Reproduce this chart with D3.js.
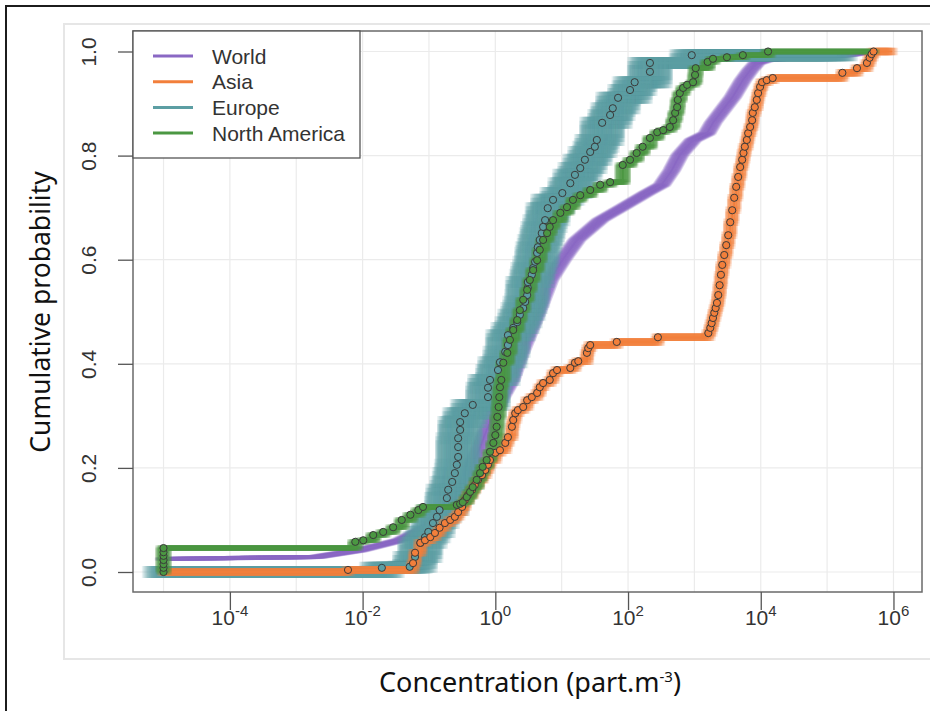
<!DOCTYPE html>
<html>
<head>
<meta charset="utf-8">
<script src="https://cdn.jsdelivr.net/npm/d3@7"></script>
<style>
  body { margin: 0; background: #fff; }
  text { font-family: "Liberation Sans", Arial, sans-serif; }
</style>
</head>
<body>
<svg id="chart" width="930" height="711"></svg>
<script>
// Empirical cumulative distributions: log10(concentration, part.m-3) and cumulative probability

const seriesNames = ["World", "Asia", "Europe", "North America"];
// largest observed log10 concentration per series (where each curve ends)
const seriesMaxLogConc = [5.69, 5.98, 5.15, 5.69];

const worldLogConc = [-5.01, -2.69, -2.04, -1.44, -0.98, -0.68, -0.49, -0.38, -0.23, -0.03, 0.07, 0.24, 0.37, 0.63, 0.82, 1.01, 1.23, 1.58, 1.92, 2.28, 2.51, 2.66, 2.78, 2.98, 3.19, 3.28, 3.43, 3.58, 3.73, 3.84, 3.94, 4.09, 4.70, 5.30, 5.69];
const worldProb    = [0.025, 0.029, 0.042, 0.061, 0.090, 0.130, 0.160, 0.196, 0.240, 0.305, 0.330, 0.369, 0.417, 0.498, 0.561, 0.599, 0.638, 0.676, 0.701, 0.728, 0.744, 0.772, 0.801, 0.830, 0.843, 0.863, 0.888, 0.913, 0.945, 0.964, 0.978, 0.984, 0.989, 0.993, 1.000];

const asiaLogConc = [-2.22, -1.24, -1.21, -1.13, -1.06, -0.98, -0.91, -0.84, -0.76, -0.68, -0.61, -0.56, -0.50, -0.46, -0.41, -0.35, -0.31, -0.26, -0.20, -0.15, -0.11, -0.08, 0.00, 0.07, 0.15, 0.19, 0.25, 0.27, 0.30, 0.34, 0.42, 0.48, 0.55, 0.63, 0.67, 0.72, 0.82, 0.87, 0.93, 1.13, 1.20, 1.25, 1.38, 1.40, 1.43, 1.83, 2.45, 3.21, 3.24, 3.26, 3.28, 3.30, 3.32, 3.34, 3.36, 3.38, 3.40, 3.42, 3.45, 3.48, 3.51, 3.54, 3.57, 3.60, 3.63, 3.66, 3.69, 3.72, 3.74, 3.76, 3.79, 3.81, 3.84, 3.87, 3.88, 3.91, 3.94, 3.96, 3.99, 4.02, 4.09, 4.18, 5.23, 5.45, 5.60, 5.64, 5.67, 5.70];
const asiaProb    = [0.004, 0.017, 0.037, 0.056, 0.061, 0.067, 0.075, 0.085, 0.094, 0.100, 0.106, 0.115, 0.125, 0.138, 0.148, 0.158, 0.167, 0.177, 0.186, 0.196, 0.206, 0.215, 0.229, 0.234, 0.248, 0.259, 0.279, 0.292, 0.305, 0.311, 0.317, 0.330, 0.336, 0.344, 0.355, 0.363, 0.369, 0.382, 0.388, 0.392, 0.402, 0.405, 0.421, 0.430, 0.436, 0.442, 0.451, 0.459, 0.469, 0.478, 0.488, 0.498, 0.507, 0.517, 0.532, 0.551, 0.571, 0.590, 0.609, 0.628, 0.647, 0.672, 0.695, 0.719, 0.740, 0.759, 0.778, 0.792, 0.805, 0.817, 0.830, 0.843, 0.855, 0.868, 0.882, 0.893, 0.907, 0.920, 0.932, 0.941, 0.945, 0.949, 0.959, 0.968, 0.978, 0.988, 0.995, 1.000];

const europeLogConc = [-1.71, -1.29, -1.21, -1.13, -1.06, -1.01, -0.94, -0.88, -0.84, -0.73, -0.71, -0.65, -0.61, -0.58, -0.56, -0.56, -0.56, -0.53, -0.53, -0.46, -0.34, -0.11, -0.11, -0.08, 0.04, 0.07, 0.15, 0.19, 0.19, 0.27, 0.33, 0.37, 0.42, 0.45, 0.48, 0.49, 0.49, 0.55, 0.57, 0.60, 0.63, 0.64, 0.67, 0.70, 0.72, 0.75, 0.79, 0.87, 1.01, 1.13, 1.20, 1.28, 1.35, 1.43, 1.50, 1.53, 1.61, 1.73, 1.77, 1.85, 2.03, 2.10, 2.33, 2.33, 2.96];
const europeProb    = [0.008, 0.010, 0.029, 0.056, 0.067, 0.077, 0.094, 0.106, 0.119, 0.142, 0.158, 0.173, 0.190, 0.206, 0.221, 0.240, 0.257, 0.273, 0.288, 0.305, 0.321, 0.336, 0.354, 0.369, 0.388, 0.403, 0.423, 0.436, 0.455, 0.469, 0.480, 0.494, 0.507, 0.519, 0.532, 0.546, 0.557, 0.571, 0.584, 0.596, 0.613, 0.624, 0.638, 0.651, 0.663, 0.676, 0.699, 0.715, 0.728, 0.747, 0.763, 0.776, 0.792, 0.807, 0.817, 0.830, 0.863, 0.878, 0.891, 0.911, 0.926, 0.941, 0.961, 0.978, 0.993];

const naLogConc = [-5.00, -5.00, -5.00, -5.00, -5.00, -5.00, -5.00, -2.11, -1.99, -1.84, -1.69, -1.54, -1.41, -1.28, -1.16, -1.09, -0.58, -0.53, -0.49, -0.43, -0.38, -0.34, -0.28, -0.23, -0.19, -0.13, -0.08, -0.03, 0.00, 0.02, 0.03, 0.05, 0.06, 0.07, 0.09, 0.12, 0.18, 0.22, 0.27, 0.33, 0.37, 0.42, 0.48, 0.52, 0.57, 0.63, 0.67, 0.72, 0.78, 0.82, 0.87, 0.98, 1.08, 1.17, 1.28, 1.43, 1.58, 1.73, 1.92, 2.03, 2.13, 2.22, 2.33, 2.44, 2.53, 2.63, 2.68, 2.71, 2.74, 2.75, 2.78, 2.83, 2.89, 2.98, 3.01, 3.02, 3.20, 3.28, 3.49, 3.73, 4.11];
const naProb    = [0.000, 0.008, 0.015, 0.023, 0.031, 0.038, 0.046, 0.058, 0.061, 0.071, 0.077, 0.086, 0.100, 0.110, 0.119, 0.125, 0.129, 0.131, 0.134, 0.144, 0.154, 0.163, 0.177, 0.190, 0.202, 0.215, 0.231, 0.248, 0.263, 0.279, 0.298, 0.317, 0.336, 0.355, 0.369, 0.402, 0.421, 0.446, 0.465, 0.484, 0.503, 0.523, 0.542, 0.561, 0.580, 0.599, 0.619, 0.638, 0.651, 0.663, 0.676, 0.690, 0.701, 0.715, 0.724, 0.734, 0.744, 0.749, 0.782, 0.792, 0.805, 0.817, 0.834, 0.845, 0.849, 0.855, 0.868, 0.882, 0.893, 0.907, 0.920, 0.930, 0.936, 0.941, 0.955, 0.968, 0.980, 0.986, 0.989, 0.993, 1.000];

const xTickExponents = [-4, -2, 0, 2, 4, 6];
const yTickValues = [0, 0.2, 0.4, 0.6, 0.8, 1.0];

const colors = {
  "World": "#8a68c4",
  "Asia": "#f27f3b",
  "Europe": "#5c9ea3",
  "North America": "#4b9742"
};

(function () {
const svg = d3.select("#chart");
const pLeft = 133, pRight = 922, pTop = 31, pBottom = 592;

const x = d3.scaleLog().domain([Math.pow(10, -5.46), Math.pow(10, 6.43)]).range([pLeft, pRight]);
const y = d3.scaleLinear().domain([0, 1]).range([572, 51.5]);
const X = L => x(Math.pow(10, L));

// outer frames
svg.append("rect").attr("x", 6).attr("y", 6).attr("width", 940).attr("height", 720)
  .attr("fill", "none").attr("stroke", "#1c1c1c").attr("stroke-width", 2);
svg.append("rect").attr("x", 64).attr("y", 24).attr("width", 880).attr("height", 635)
  .attr("fill", "none").attr("stroke", "#e6e6e6").attr("stroke-width", 2);

// grid
const grid = svg.append("g");
d3.range(-5, 7).forEach(k => {
  grid.append("line").attr("x1", X(k)).attr("x2", X(k)).attr("y1", pTop).attr("y2", pBottom)
    .attr("stroke", "#ebebeb").attr("stroke-width", 1.2);
});
yTickValues.forEach(v => {
  grid.append("line").attr("x1", pLeft).attr("x2", pRight).attr("y1", y(v)).attr("y2", y(v))
    .attr("stroke", "#ebebeb").attr("stroke-width", 1.2);
});

svg.append("clipPath").attr("id", "plotclip").append("rect")
  .attr("x", pLeft).attr("y", pTop).attr("width", pRight - pLeft).attr("height", pBottom - pTop);
const plot = svg.append("g").attr("clip-path", "url(#plotclip)");

const maxOf = n => seriesMaxLogConc[seriesNames.indexOf(n)];

function stepPath(L, P, startP, endL) {
  let d = `M${X(-5.01)},${y(startP)}`;
  for (let i = 0; i < L.length; i++) d += `H${X(L[i])}V${y(P[i])}`;
  d += `H${X(endL)}`;
  return d;
}
const worldLine = d3.line().x(d => X(d[0])).y(d => y(d[1]));
const worldPath = worldLine(worldLogConc.map((v, i) => [v, worldProb[i]]));

const series = [
  { name: "World", d: worldPath, band: { sx: 8, sy: 0.6, nx: 13, ny: 2, w: 3, op: 0.45 }, L: null },
  { name: "Europe", d: stepPath(europeLogConc, europeProb, 0, maxOf("Europe")), band: { sx: 21, sy: 4, nx: 33, ny: 3, w: 4, op: 0.32 }, L: europeLogConc, P: europeProb },
  { name: "Asia", d: stepPath(asiaLogConc, asiaProb, 0, maxOf("Asia")), band: { sx: 6, sy: 2.5, nx: 9, ny: 3, w: 2.5, op: 0.4 }, L: asiaLogConc, P: asiaProb },
  { name: "North America", d: stepPath(naLogConc, naProb, 0, maxOf("North America")), band: { sx: 7, sy: 1.5, nx: 11, ny: 3, w: 2.5, op: 0.4 }, L: naLogConc, P: naProb }
];

// resampled bands, drawn as shifted copies of each curve
series.forEach(s => {
  const g = plot.append("g");
  const b = s.band;
  for (let i = 0; i < b.nx; i++) {
    for (let j = 0; j < b.ny; j++) {
      const dx = -b.sx + 2 * b.sx * i / (b.nx - 1);
      const dy = -b.sy + 2 * b.sy * j / (b.ny - 1);
      const edge = Math.abs(dx) / b.sx;
      g.append("path").attr("d", s.d).attr("transform", `translate(${dx},${dy})`)
        .attr("fill", "none").attr("stroke", colors[s.name])
        .attr("stroke-width", b.w).attr("stroke-opacity", b.op * (1 - 0.55 * edge * edge));
    }
  }
  g.append("path").attr("d", s.d).attr("fill", "none")
    .attr("stroke", colors[s.name]).attr("stroke-width", 1.6);
});

// observed points
series.filter(s => s.L).forEach(s => {
  plot.append("g").selectAll("circle")
    .data(s.L.map((v, i) => [v, s.P[i]]))
    .join("circle")
    .attr("cx", d => X(d[0])).attr("cy", d => y(d[1])).attr("r", 3.6)
    .attr("fill", colors[s.name]).attr("stroke", "#3a3a3a").attr("stroke-width", 1);
});

// plot box
svg.append("rect").attr("x", pLeft).attr("y", pTop).attr("width", pRight - pLeft).attr("height", pBottom - pTop)
  .attr("fill", "none").attr("stroke", "#6a6a6a").attr("stroke-width", 1.5);

// x axis
const xAxis = svg.append("g").attr("transform", `translate(0,${pBottom})`)
  .call(d3.axisBottom(x).tickValues(xTickExponents.map(e => Math.pow(10, e))).tickSize(18).tickFormat(() => ""));
xAxis.select(".domain").remove();
xAxis.selectAll(".tick line").attr("stroke", "#555").attr("stroke-width", 1.3);
xTickExponents.forEach(e => {
  const t = svg.append("text").attr("x", X(e)).attr("y", 625).attr("text-anchor", "middle")
    .attr("fill", "#333").attr("font-size", 21);
  t.append("tspan").text("10");
  t.append("tspan").attr("dy", -9).attr("font-size", 15).text(e < 0 ? "-" + Math.abs(e) : String(e));
});

// y axis
const yAxis = svg.append("g").attr("transform", `translate(${pLeft},0)`)
  .call(d3.axisLeft(y).tickValues(yTickValues).tickSize(15).tickFormat(d3.format(".1f")));
yAxis.select(".domain").remove();
yAxis.selectAll(".tick line").attr("stroke", "#555").attr("stroke-width", 1.3);
yAxis.selectAll(".tick text").attr("x", 0).attr("y", -37).attr("dy", 0)
  .attr("text-anchor", "middle").attr("transform", "rotate(-90)")
  .attr("font-size", 21).attr("fill", "#333")
  .style("font-family", "'Liberation Sans', Arial, sans-serif");

// axis titles
const xt = svg.append("text").attr("x", 530).attr("y", 692).attr("text-anchor", "middle")
  .attr("font-size", 27).attr("fill", "#111").style("font-family", "'Noto Sans', sans-serif");
xt.append("tspan").text("Concentration (part.m");
xt.append("tspan").attr("dy", -10).attr("font-size", 15).text("-3");
xt.append("tspan").attr("dy", 10).text(")");

svg.append("text").attr("transform", "translate(50,312) rotate(-90)").attr("text-anchor", "middle")
  .attr("font-size", 26.5).attr("fill", "#111").style("font-family", "'Noto Sans', sans-serif")
  .text("Cumulative probability");

// legend
const lg = svg.append("g");
lg.append("rect").attr("x", pLeft).attr("y", pTop).attr("width", 227).attr("height", 127)
  .attr("fill", "#fff").attr("stroke", "#555").attr("stroke-width", 1.3);
seriesNames.forEach((n, i) => {
  const yy = 56 + i * 25.7;
  lg.append("line").attr("x1", 153).attr("x2", 193).attr("y1", yy).attr("y2", yy)
    .attr("stroke", colors[n]).attr("stroke-width", 3);
  lg.append("text").attr("x", 212).attr("y", yy + 7.5).attr("font-size", 21).attr("fill", "#333").text(n);
});
})();
</script>
</body>
</html>
